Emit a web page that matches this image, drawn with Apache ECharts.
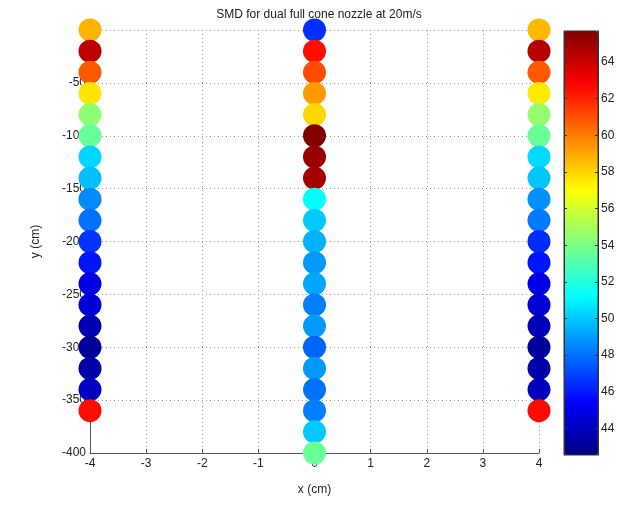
<!DOCTYPE html>
<html>
<head>
<meta charset="utf-8">
<script src="https://cdn.jsdelivr.net/npm/echarts@6/dist/echarts.min.js"></script>
<style>html,body{margin:0;padding:0;background:#fff}#c{width:627px;height:505px}</style>
</head>
<body>
<div id="c"></div>
<script>
// ---- data ----
var title = 'SMD for dual full cone nozzle at 20m/s';
var xTicks = [-4, -3, -2, -1, 0, 1, 2, 3, 4];
var yTicks = [0, -50, -100, -150, -200, -250, -300, -350, -400];
var cbTicks = [44, 46, 48, 50, 52, 54, 56, 58, 60, 62, 64];
var cbMin = 42.54, cbMax = 65.7;

var leftX = -4;
var leftY = [0, -20, -40, -60, -80, -100, -120, -140, -160, -180, -200, -220, -240, -260, -280, -300, -320, -340, -360];
var leftSMD = [58.7, 64.3, 60.8, 57.6, 54.4, 53.5, 50.3, 49.8, 48.6, 48.0, 46.6, 45.9, 44.8, 44.5, 43.7, 43.1, 43.4, 44.0, 62.5];

var midX = 0;
var midY = [0, -20, -40, -60, -80, -100, -120, -140, -160, -180, -200, -220, -240, -260, -280, -300, -320, -340, -360, -380, -400];
var midSMD = [46.5, 62.5, 61.1, 59.3, 57.9, 65.6, 65.1, 64.8, 51.3, 50.0, 49.5, 48.9, 49.2, 48.3, 48.9, 47.7, 48.9, 48.0, 48.3, 50.0, 53.6];

var rightX = 4;
var rightY = [0, -20, -40, -60, -80, -100, -120, -140, -160, -180, -200, -220, -240, -260, -280, -300, -320, -340, -360];
var rightSMD = [58.6, 64.4, 60.8, 57.5, 54.6, 53.6, 50.4, 49.9, 48.7, 48.2, 46.4, 45.9, 44.9, 44.5, 43.8, 43.2, 43.5, 43.9, 62.6];

function pts(x, ys, vs) { return ys.map(function (y, i) { return [x, y, vs[i]]; }); }

var jet = ['#000080', '#0000ff', '#0080ff', '#00ffff', '#80ff80', '#ffff00', '#ff8000', '#ff0000', '#800000'];
var txt = '#222';
var chart = echarts.init(document.getElementById('c'), null, { renderer: 'canvas' });
chart.setOption({
  animation: false,
  backgroundColor: '#fff',
  title: {
    text: title, left: 314, top: 4, textAlign: 'center',
    textStyle: { fontFamily: 'Liberation Sans', fontSize: 12, fontWeight: 'normal', color: txt }
  },
  grid: [
    { left: 90, right: 88, top: 30, bottom: 52, containLabel: false },
    { left: 564, width: 34, top: 31, height: 424, show: true, z: 6,
      borderColor: '#333', borderWidth: 1, backgroundColor: 'transparent' }
  ],
  xAxis: [{
    gridIndex: 0, type: 'value', min: -4, max: 4, interval: 1,
    name: 'x (cm)', nameLocation: 'middle', nameGap: 31,
    nameTextStyle: { fontFamily: 'Liberation Sans', fontSize: 12, color: txt },
    axisLine: { show: true, onZero: false, lineStyle: { color: '#555', width: 1 } },
    axisTick: { show: true, inside: true, length: 4, lineStyle: { color: '#555' } },
    axisLabel: { fontFamily: 'Liberation Sans', fontSize: 12, color: txt, margin: 5,
      customValues: xTicks },
    splitLine: { show: true, lineStyle: { color: '#999', type: [1, 3], width: 1 } }
  }, {
    gridIndex: 1, type: 'value', show: false, min: 0, max: 1
  }],
  yAxis: [{
    gridIndex: 0, type: 'value', min: -400, max: 0, interval: 50,
    name: 'y (cm)', nameLocation: 'middle', nameGap: 48, nameRotate: 90,
    nameTextStyle: { fontFamily: 'Liberation Sans', fontSize: 12, color: txt },
    axisLine: { show: true, onZero: false, lineStyle: { color: '#555', width: 1 } },
    axisTick: { show: true, inside: true, length: 4, lineStyle: { color: '#555' } },
    axisLabel: { fontFamily: 'Liberation Sans', fontSize: 12, color: txt, margin: 4,
      customValues: yTicks },
    splitLine: { show: true, lineStyle: { color: '#999', type: [1, 3], width: 1 } }
  }, {
    gridIndex: 1, type: 'value', position: 'right', min: cbMin, max: cbMax, z: 6,
    axisLine: { show: true, onZero: false, lineStyle: { color: '#333' } },
    axisTick: { show: true, inside: true, length: 3, customValues: cbTicks, lineStyle: { color: '#333' } },
    axisLabel: { fontFamily: 'Liberation Sans', fontSize: 12, color: txt, margin: 3, customValues: cbTicks },
    splitLine: { show: false }
  }, {
    gridIndex: 1, type: 'value', position: 'left', min: cbMin, max: cbMax, z: 6,
    axisLine: { show: true, onZero: false, lineStyle: { color: '#333' } },
    axisTick: { show: true, inside: true, length: 3, customValues: cbTicks, lineStyle: { color: '#333' } },
    axisLabel: { show: false },
    splitLine: { show: false }
  }],
  visualMap: {
    type: 'continuous', min: cbMin, max: cbMax, dimension: 2, seriesIndex: [0, 1, 2],
    calculable: false, realtime: false, hoverLink: false,
    left: 564, top: 31, itemWidth: 34, itemHeight: 424, padding: 0, text: null,
    showLabel: false, z: 1,
    inRange: { color: jet },
    textStyle: { color: 'transparent' }
  },
  series: [
    { type: 'scatter', xAxisIndex: 0, yAxisIndex: 0, symbol: 'circle', symbolSize: 23, z: 3,
      data: pts(leftX, leftY, leftSMD), itemStyle: { opacity: 1 } },
    { type: 'scatter', xAxisIndex: 0, yAxisIndex: 0, symbol: 'circle', symbolSize: 23, z: 3,
      data: pts(midX, midY, midSMD), itemStyle: { opacity: 1 } },
    { type: 'scatter', xAxisIndex: 0, yAxisIndex: 0, symbol: 'circle', symbolSize: 23, z: 3,
      data: pts(rightX, rightY, rightSMD), itemStyle: { opacity: 1 } }
  ]
});
</script>
</body>
</html>
